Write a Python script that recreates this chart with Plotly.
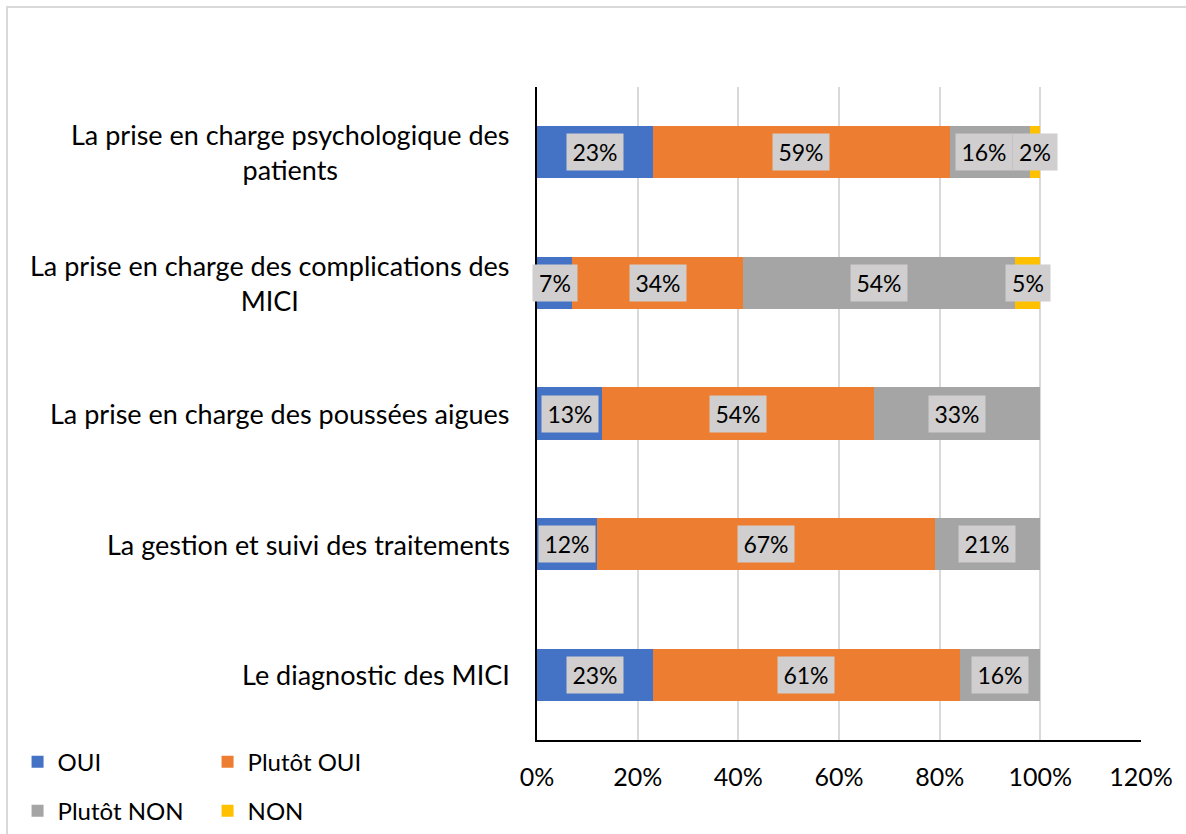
import plotly.graph_objects as go

categories = [
    "Le diagnostic des MICI",
    "La gestion et suivi des traitements",
    "La prise en charge des poussées aigues",
    "La prise en charge des complications des<br>MICI",
    "La prise en charge psychologique des<br>patients",
]
series_names = ["OUI", "Plutôt OUI", "Plutôt NON", "NON"]
oui = [23, 12, 13, 7, 23]
plutot_oui = [61, 67, 54, 34, 59]
plutot_non = [16, 21, 33, 54, 16]
non = [0, 0, 0, 5, 2]
colors = ["#4472C4", "#ED7D31", "#A5A5A5", "#FFC000"]
tick_values = [0, 20, 40, 60, 80, 100, 120]
tick_labels = ["0%", "20%", "40%", "60%", "80%", "100%", "120%"]

FONT = "Lato"
series = [oui, plutot_oui, plutot_non, non]

PLOT_W = 1186 - 537 - 45
PX_PER_UNIT = PLOT_W / 120.0

fig = go.Figure()
for i, (name, vals, col) in enumerate(zip(series_names, series, colors)):
    fig.add_trace(go.Bar(
        y=categories, x=vals, name=name, orientation="h",
        marker=dict(color=col, line=dict(width=0)),
        legend="legend" if i < 2 else "legend2",
        hoverinfo="skip",
    ))


def box_w(txt):
    return 36 if len(txt) <= 2 else 48


annotations = []
for ci, cat in enumerate(categories):
    labels = []
    cum = 0
    for vals in series:
        v = vals[ci]
        if v > 0:
            labels.append([cum + v / 2, f"{v}%", 0.0])
        cum += v
    # nudge a label left if its box would overlap the next one
    for k in range(len(labels) - 1):
        c0, t0, _ = labels[k]
        c1, t1, _ = labels[k + 1]
        right0 = c0 * PX_PER_UNIT + (box_w(t0) + 8) / 2
        left1 = c1 * PX_PER_UNIT - (box_w(t1) + 8) / 2
        if right0 > left1 - 1:
            labels[k][2] = -(right0 - left1 + 1)
    for c, t, shift in labels:
        annotations.append(dict(
            x=c, y=cat, xref="x", yref="y", xshift=shift,
            text=t, showarrow=False, width=box_w(t), align="center",
            bgcolor="#D0CECE", borderpad=4,
            font=dict(family=FONT, size=23, color="#000000"),
        ))
    annotations.append(dict(
        x=0, y=cat, xref="paper", yref="y", xanchor="right", xshift=-25,
        text=cat, showarrow=False, align="center",
        font=dict(family=FONT, size=27, color="#000000"),
    ))

fig.update_layout(
    barmode="stack",
    bargap=0.6,
    width=1186, height=834,
    margin=dict(l=537, r=45, t=87, b=94, autoexpand=False),
    paper_bgcolor="white", plot_bgcolor="white",
    font=dict(family=FONT, size=24, color="#000000"),
    annotations=annotations,
    showlegend=True,
    legend=dict(orientation="h", x=-0.86, xanchor="left", y=-0.034, yanchor="middle",
                entrywidth=145, font=dict(family=FONT, size=24), traceorder="normal",
                bgcolor="rgba(0,0,0,0)"),
    legend2=dict(orientation="h", x=-0.86, xanchor="left", y=-0.109, yanchor="middle",
                 entrywidth=145, font=dict(family=FONT, size=24), traceorder="normal",
                 bgcolor="rgba(0,0,0,0)"),
    shapes=[dict(type="rect", xref="paper", yref="paper",
                 x0=-0.8775, x1=1.09, y0=-0.16, y1=1.1225,
                 line=dict(color="#D9D9D9", width=2), fillcolor="rgba(0,0,0,0)", layer="below")],
)
fig.update_xaxes(
    range=[0, 120], tickvals=tick_values, ticktext=tick_labels,
    showgrid=True, gridcolor="#D9D9D9", gridwidth=2,
    showline=True, linecolor="#000000", linewidth=2,
    ticks="", ticklabelstandoff=14, zeroline=False,
    tickfont=dict(family=FONT, size=25),
)
fig.update_yaxes(
    showticklabels=False, showline=True, linecolor="#000000", linewidth=2,
    showgrid=False, ticks="",
)
fig.write_html("out.html", config={"displayModeBar": False},
               post_script="document.body.style.margin='0';")
